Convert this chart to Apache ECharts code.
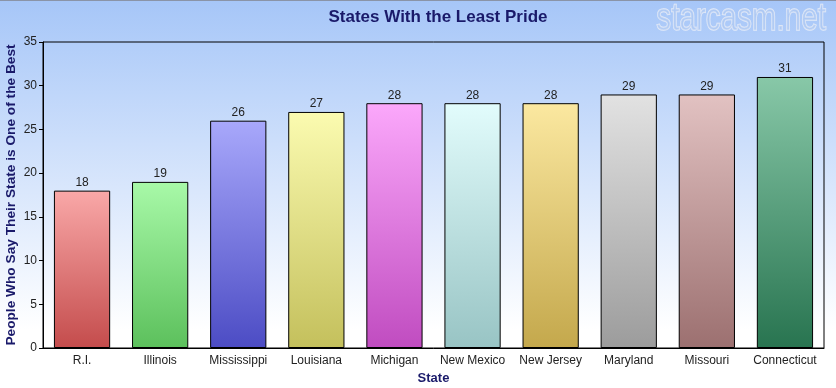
<!DOCTYPE html>
<html><head><meta charset="utf-8">
<script src="https://cdn.jsdelivr.net/npm/echarts@6/dist/echarts.min.js"></script>
<style>html,body{margin:0;padding:0;}#c{width:836px;height:388px;}</style>
</head><body><div id="c"></div>
<script>
const states = ['R.I.','Illinois','Mississippi','Louisiana','Michigan','New Mexico','New Jersey','Maryland','Missouri','Connecticut'];
const values = [18,19,26,27,28,28,28,29,29,31];
const topColors = ['#f9a8a8','#a8f9a8','#a8a8fb','#fbfbb0','#fba8fb','#e2fcfc','#fbe8a0','#e2e2e2','#e2c2c2','#88c8a8'];
const bottomColors = ['#c44c4c','#5cc05c','#4c4cc4','#c4c05c','#c04cc0','#98c4c4','#c4a84c','#9c9c9c','#9c7070','#287450'];
const yTicks = [0,5,10,15,20,25,30,35];

const chart = echarts.init(document.getElementById('c'));
const navy = '#1a1a6a';
chart.setOption({
  animation: false,
  backgroundColor: new echarts.graphic.LinearGradient(0,0,0,1,[
    {offset:0,color:'#a6c6f8'},{offset:0.85,color:'#ffffff'},{offset:1,color:'#ffffff'}]),
  title: {
    text: 'States With the Least Pride', left: 433, top: 4, textAlign: 'center',
    textStyle: {color: navy, fontSize: 17, fontWeight: 'bold', fontFamily: 'Liberation Sans'}
  },
  graphic: [
    {type:'line', shape:{x1:0,y1:0.5,x2:836,y2:0.5}, style:{stroke:'#8a94a8', lineWidth:1}},
    {type:'text', x: 826, y: 1, scaleX: 0.78, style:{text:'starcasm.net', align:'right', verticalAlign:'top', font:'38px "Liberation Sans"', fill:'rgba(175,200,240,0.55)', stroke:'#e4ebf8', lineWidth:1.5}}
  ],
  grid: {left: 43, right: 12, top: 42, bottom: 40, show: true, borderColor: '#000', borderWidth: 1, backgroundColor: 'transparent', outerBoundsMode: 'none'},
  xAxis: {
    type: 'category', data: states,
    name: 'State', nameLocation: 'middle', nameGap: 24, nameMoveOverlap: false,
    nameTextStyle: {color: navy, fontWeight: 'bold', fontSize: 13, fontFamily: 'Liberation Sans'},
    axisLine: {lineStyle: {color: '#000'}},
    axisTick: {alignWithLabel: true, length: 4, lineStyle: {color: '#000'}},
    axisLabel: {color: '#222', fontSize: 12, fontFamily: 'Liberation Sans', margin: 7, interval: 0}
  },
  yAxis: {
    type: 'value', min: 0, max: 35, interval: 5,
    name: 'People Who Say Their State is One of the Best', nameLocation: 'middle', nameGap: 25, nameMoveOverlap: false,
    nameTextStyle: {color: navy, fontWeight: 'bold', fontSize: 13.7, fontFamily: 'Liberation Sans'},
    axisLine: {show: true, lineStyle: {color: '#000'}},
    axisTick: {show: true, length: 4, lineStyle: {color: '#000'}},
    splitLine: {show: false},
    axisLabel: {color: '#222', fontSize: 12, fontFamily: 'Liberation Sans', margin: 6,
      formatter: v => yTicks.includes(v) ? String(v) : ''}
  },
  series: [{
    type: 'bar', barWidth: '72%',
    data: values.map((v,i) => ({value: v, itemStyle: {
      color: new echarts.graphic.LinearGradient(0,0,0,1,[{offset:0,color:topColors[i]},{offset:1,color:bottomColors[i]}]),
      borderColor: '#000', borderWidth: 1}})),
    label: {show: true, position: 'top', distance: 2, color: '#222', fontSize: 12, fontFamily: 'Liberation Sans'}
  }]
});
</script></body></html>
